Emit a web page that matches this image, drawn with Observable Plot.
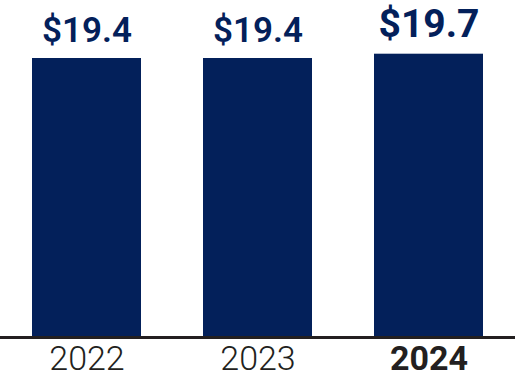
<!DOCTYPE html>
<html>
<head>
<meta charset="utf-8">
<script src="https://cdn.jsdelivr.net/npm/d3@7"></script>
<script src="https://cdn.jsdelivr.net/npm/@observablehq/plot@0.6"></script>
<style>
  html, body { margin: 0; padding: 0; background: #fff; }
  #chart svg { display: block; }
</style>
</head>
<body>
<div id="chart"></div>
<script>
const years = ["2022", "2023", "2024"];
const values = [19.4, 19.4, 19.7];
const valueLabels = ["$19.4", "$19.4", "$19.7"];
const highlightYear = "2024";

const data = years.map((y, i) => ({ year: y, value: values[i], label: valueLabels[i] }));
const regular = data.filter(d => d.year !== highlightYear);
const bold = data.filter(d => d.year === highlightYear);

const navy = "#03205a";
const ink = "#231f20";

const chart = Plot.plot({
  width: 515,
  height: 378,
  marginLeft: 0,
  marginRight: 0,
  marginTop: 0,
  marginBottom: 0,
  style: { fontFamily: "Roboto, sans-serif", background: "#fff" },
  x: { domain: years, range: [0, 515], paddingInner: 0.3615, paddingOuter: 0.182, axis: null },
  y: { domain: [0, 19.4], range: [336, 58], axis: null },
  marks: [
    Plot.barY(data, { x: "year", y: "value", fill: navy }),
    Plot.ruleY([0], { stroke: ink, strokeWidth: 3, dy: 1 }),
    Plot.text(regular, { x: "year", y: "value", text: "label", fill: navy, fontSize: 35, fontWeight: 600, lineAnchor: "bottom", dy: -17, letterSpacing: -0.8 }),
    Plot.text(bold, { x: "year", y: "value", text: "label", fill: navy, fontSize: 39, fontWeight: 700, lineAnchor: "bottom", dy: -17, letterSpacing: -1 }),
    Plot.text(regular, { x: "year", y: () => 0, text: "year", fill: ink, fontSize: 34, fontWeight: 300, lineAnchor: "bottom", dy: 33 }),
    Plot.text(bold, { x: "year", y: () => 0, text: "year", fill: ink, fontSize: 34, fontWeight: 700, lineAnchor: "bottom", dy: 33 })
  ]
});
document.getElementById("chart").appendChild(chart);
</script>
</body>
</html>
